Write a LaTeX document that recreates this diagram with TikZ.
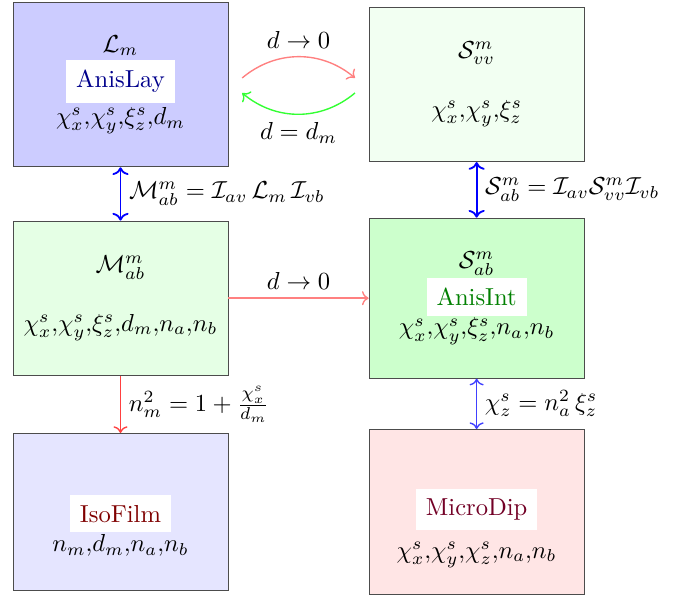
\documentclass[tikz,border=0pt]{standalone}
\usepackage{fix-cm}
\usepackage{amsmath}
\usepackage{amssymb}
\usepackage{tikz}
\usetikzlibrary{positioning, arrows.meta}

\newcommand{\tagbox}[2]{{\setlength{\fboxsep}{4.3pt}\colorbox{white}{\textcolor{#1}{#2}}}}

\begin{document}
\begin{tikzpicture}[node distance=5.45cm, auto,
    every node/.style={font=\fontsize{10.7}{12.8}\selectfont},
    box/.style={draw=black!70, align=center, minimum width=3.29cm}]
    \useasboundingbox (-1.844,1.293) rectangle (8.70,-7.81);

    \node[box, fill=blue!20, minimum height=2.52cm] (anislay) {$\mathcal{L}_m$\\[1pt] \tagbox{blue!55!black}{AnisLay}\\[1pt] $\chi^s_x{,}\chi^s_y{,}\xi^s_z{,}d_m$};
    \node[box, fill=green!5, minimum height=2.36cm, right of=anislay] (svv) {$\mathcal{S}^m_{vv}$\\ ~\\ $\chi^s_x{,}\chi^s_y{,}\xi^s_z$};
    \node[box, fill=green!10, minimum height=2.36cm, below of=anislay, node distance=3.27cm] (mab) {$\mathcal{M}^m_{ab}$\\ ~\\ $\chi^s_x{,}\chi^s_y{,}\xi^s_z{,}d_m{,}n_a{,}n_b$};
    \node[box, fill=green!20, minimum height=2.45cm, below of=svv, node distance=3.27cm] (anisint) {$\mathcal{S}^m_{ab}$\\ \tagbox{green!50!black}{AnisInt}\\ $\chi^s_x{,}\chi^s_y{,}\xi^s_z{,}n_a{,}n_b$};
    \node[box, fill=blue!10, minimum height=2.4cm, below of=mab, node distance=3.27cm] (isofilm) {~\\[11pt] \tagbox{red!50!black}{IsoFilm}\\ $n_m{,}d_m{,}n_a{,}n_b$};
    \node[box, fill=red!10, minimum height=2.52cm, below of=anisint, node distance=3.27cm] (microdip) {~\\[13pt] \tagbox{purple!60!black}{MicroDip}\\[4pt] $\chi^s_x{,}\chi^s_y{,}\chi^s_z{,}n_a{,}n_b$};

    \draw[->, red!50, semithick] ([xshift=0.21cm, yshift=0.1cm]anislay.east) to[bend left=40] node[black] {$d\to 0$} ([xshift=-0.21cm, yshift=0.1cm]svv.west);
    \draw[->, green!80, semithick] ([xshift=-0.21cm, yshift=-0.13cm]svv.west) to[bend left=40] node[black] {$d=d_m$} ([xshift=0.21cm, yshift=-0.13cm]anislay.east);
    \draw[<->, blue, thick] (anislay) -- node[black] {$\mathcal{M}^m_{ab}=\mathcal{I}_{av}\,\mathcal{L}_m\,\mathcal{I}_{vb}$} (mab);
    \draw[<->, blue, thick] (svv) -- node[black] {$\mathcal{S}^m_{ab}=\mathcal{I}_{av}\mathcal{S}^m_{vv}\mathcal{I}_{vb}$} (anisint);
    \draw[->, red!50, semithick] (mab) -- node[black] {$d\to 0$} (anisint);
    \draw[->, red!75, semithick] (mab) -- node[black] {$n_m^2=1+\frac{\chi^s_x}{d_m}$} (isofilm);
    \draw[<->, blue!75, semithick] (anisint) -- node[black] {$\chi^s_z=n_a^2\,\xi^s_z$} (microdip);
\end{tikzpicture}
\end{document}
